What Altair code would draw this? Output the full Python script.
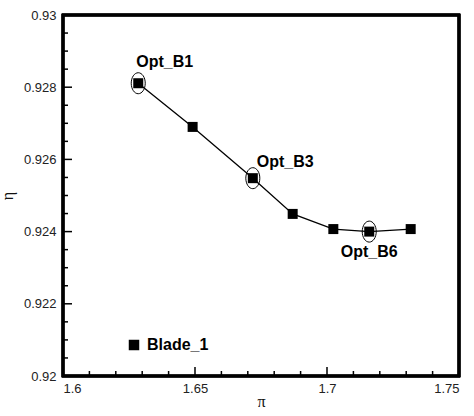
import altair as alt
import pandas as pd

# Pressure ratio (pi) and efficiency (eta) for each design of Blade_1
pi_values = [1.6285, 1.6491, 1.6719, 1.6870, 1.7024, 1.7160, 1.7317]
eta_values = [0.92811, 0.92690, 0.92548, 0.92449, 0.92407, 0.92400, 0.92407]
design_labels = ["Opt_B1", "", "Opt_B3", "", "", "Opt_B6", ""]
series_name = "Blade_1"

# Axis ticks
x_major = [1.6, 1.65, 1.7, 1.75]
x_minor = [1.61, 1.62, 1.63, 1.64, 1.66, 1.67, 1.68, 1.69, 1.71, 1.72, 1.73, 1.74]
y_major = [0.92, 0.922, 0.924, 0.926, 0.928, 0.93]
y_minor = [0.9205, 0.921, 0.9215, 0.9225, 0.923, 0.9235, 0.9245, 0.925, 0.9255,
           0.9265, 0.927, 0.9275, 0.9285, 0.929, 0.9295]

df = pd.DataFrame({
    "pi": pi_values,
    "eta": eta_values,
    "label": design_labels,
    "series": [series_name] * len(pi_values),
})

W, H = 396, 361
FONT = "Liberation Sans"

x_scale = alt.Scale(domain=[1.6, 1.75], nice=False, zero=False)
y_scale = alt.Scale(domain=[0.92, 0.93], nice=False, zero=False)

base = alt.Chart(df)

# Labelled axes; the tick marks are drawn inward by rule layers below
x_lab_axis = alt.Axis(values=x_major, format=".2~f", ticks=False, tickSize=0,
                      domain=False, grid=False, labelPadding=6, labelFontSize=13,
                      labelColor="#222", labelFont=FONT, titleFont="Liberation Serif",
                      titleFontSize=16, titleFontWeight="normal", titleColor="#111",
                      titleBaseline="middle", titleY=25)
y_lab_axis = alt.Axis(values=y_major, format=".3~f", ticks=False, tickSize=0,
                      domain=False, grid=False, labelPadding=7, labelFontSize=13,
                      labelColor="#222", labelFont=FONT, titleFont="Liberation Serif",
                      titleFontSize=16, titleFontWeight="normal", titleColor="#111",
                      titlePadding=8)

line = base.mark_line(color="black", strokeWidth=1.3).encode(
    x=alt.X("pi:Q", scale=x_scale, axis=x_lab_axis, title="π"),
    y=alt.Y("eta:Q", scale=y_scale, axis=y_lab_axis, title="η"),
)

points = base.mark_point(filled=True, size=100, opacity=1).encode(
    x=alt.X("pi:Q", scale=x_scale),
    y=alt.Y("eta:Q", scale=y_scale),
    color=alt.Color("series:N", scale=alt.Scale(range=["black"]), title=None,
                    legend=alt.Legend(orient="none", legendX=63, legendY=322, padding=0,
                                      symbolType="square", symbolSize=110,
                                      labelFontSize=16, labelFontWeight="bold",
                                      labelFont=FONT, labelColor="black", labelOffset=5,
                                      symbolFillColor="black", symbolStrokeWidth=0)),
    shape=alt.Shape("series:N", scale=alt.Scale(range=["square"]), legend=None),
)

highlighted = base.transform_filter(alt.datum.label != "")

ellipse_path = "M-0.667,0 A0.667,1 0 1,0 0.667,0 A0.667,1 0 1,0 -0.667,0 Z"
ellipses = highlighted.mark_point(shape=ellipse_path, size=441, filled=False,
                                  color="black", strokeWidth=1, opacity=1).encode(
    x=alt.X("pi:Q", scale=x_scale),
    y=alt.Y("eta:Q", scale=y_scale),
)


def label_layer(name, dx, dy, align):
    return base.transform_filter(alt.datum.label == name).mark_text(
        align=align, baseline="middle", dx=dx, dy=dy, font=FONT, fontSize=16,
        fontWeight="bold", color="black",
    ).encode(
        x=alt.X("pi:Q", scale=x_scale),
        y=alt.Y("eta:Q", scale=y_scale),
        text="label:N",
    )


lab_b1 = label_layer("Opt_B1", -2, -21, "left")
lab_b3 = label_layer("Opt_B3", 4, -16, "left")
lab_b6 = label_layer("Opt_B6", 0, 20, "center")


# Inward ticks along the bottom and left edges
def x_ticks(values, length):
    return alt.Chart(pd.DataFrame({"v": values})).mark_rule(
        color="black", strokeWidth=1.5
    ).encode(
        x=alt.X("v:Q", scale=x_scale),
        y=alt.value(H),
        y2=alt.value(H - length),
    )


def y_ticks(values, length):
    return alt.Chart(pd.DataFrame({"v": values})).mark_rule(
        color="black", strokeWidth=1.5
    ).encode(
        y=alt.Y("v:Q", scale=y_scale),
        x=alt.value(0),
        x2=alt.value(length),
    )


ticks = [x_ticks(x_major, 9), x_ticks(x_minor, 5), y_ticks(y_major, 9), y_ticks(y_minor, 5)]

# Plot frame drawn as a rectangle over the whole plot area
frame = base.mark_rect(fill=None, stroke="black", strokeWidth=2.5).encode(
    x=alt.value(0), x2=alt.value(W), y=alt.value(0), y2=alt.value(H),
)

chart = alt.layer(
    line, *ticks, points, ellipses, lab_b1, lab_b3, lab_b6, frame
).properties(
    width=W, height=H,
    autosize=alt.AutoSizeParams(type="none"),
    padding={"left": 63, "top": 15, "right": 15, "bottom": 40},
    background="white",
).configure_view(
    strokeWidth=0,
)

chart.save("out.html", embed_options={"renderer": "svg", "actions": False})
